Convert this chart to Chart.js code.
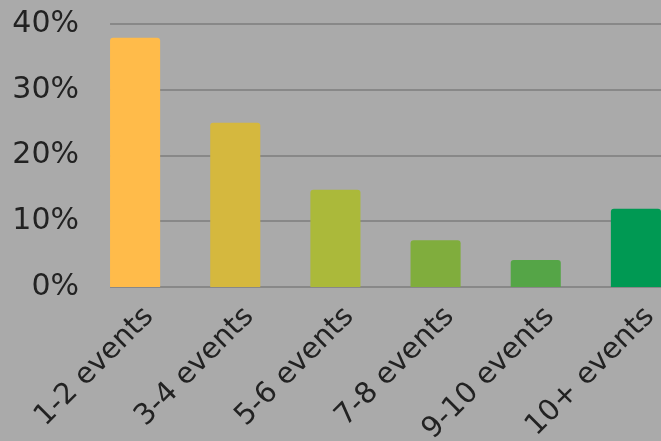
<!DOCTYPE html>
<html>
<head>
<meta charset="utf-8">
<script src="https://cdn.jsdelivr.net/npm/chart.js@4"></script>
<style>
  html, body { margin: 0; padding: 0; background: #aaaaaa; overflow: hidden; }
  #wrap { width: 686px; height: 441px; }
</style>
</head>
<body>
<div id="wrap"><canvas id="myChart" width="686" height="441"></canvas></div>
<script>
const labels = ['1-2 events', '3-4 events', '5-6 events', '7-8 events', '9-10 events', '10+ events']
const shares = [37.9, 25.0, 14.8, 7.1, 4.1, 11.9]
const barColors = ['#ffbb4a', '#d5b83e', '#abb93a', '#80ad3d', '#55a547', '#009953']
const yTicks = [0, 10, 20, 30, 40]

// grid lines start at the first bar, not at the axis
const gridFromBars = {
    id: 'gridFromBars',
    beforeDatasetsDraw(chart) {
        const ctx = chart.ctx
        const y = chart.scales.y
        const bar = chart.getDatasetMeta(0).data[0]
        const x0 = bar.x - bar.width / 2
        ctx.save()
        ctx.strokeStyle = '#888888'
        ctx.lineWidth = 2
        yTicks.forEach(v => {
            const py = Math.round(y.getPixelForValue(v))
            ctx.beginPath()
            ctx.moveTo(x0, py)
            ctx.lineTo(chart.chartArea.right, py)
            ctx.stroke()
        })
        ctx.restore()
    }
}

const data = {
    labels: labels,
    datasets: [{
        data: shares,
        backgroundColor: barColors,
        borderRadius: { topLeft: 3, topRight: 3 },
        borderSkipped: 'bottom',
        barPercentage: 0.5,
        categoryPercentage: 1.0,
    }]
}

const config = {
    type: 'bar',
    data: data,
    plugins: [gridFromBars],
    options: {
        responsive: false,
        animation: false,
        layout: { padding: { top: 8, right: 0, left: 0, bottom: 0 } },
        plugins: { legend: { display: false }, tooltip: { enabled: false } },
        scales: {
            x: {
                afterFit: (s) => { s.height = 154 },
                grid: { display: false },
                border: { display: false },
                ticks: {
                    color: '#222222',
                    font: { family: 'DejaVu Sans', size: 29 },
                    maxRotation: 45, minRotation: 45,
                    padding: 5,
                    labelOffset: 14,
                },
            },
            y: {
                min: 0, max: 40,
                afterBuildTicks: (s) => { s.ticks = yTicks.map(v => ({ value: v })) },
                afterFit: (s) => { s.width = 85 },
                grid: { display: false, drawTicks: false },
                border: { display: false },
                ticks: {
                    color: '#222222',
                    font: { family: 'DejaVu Sans', size: 30 },
                    padding: 6,
                    callback: (v) => v + '%',
                },
            },
        },
    },
}

const myChart = new Chart(document.getElementById('myChart'), config)
</script>
</body>
</html>
